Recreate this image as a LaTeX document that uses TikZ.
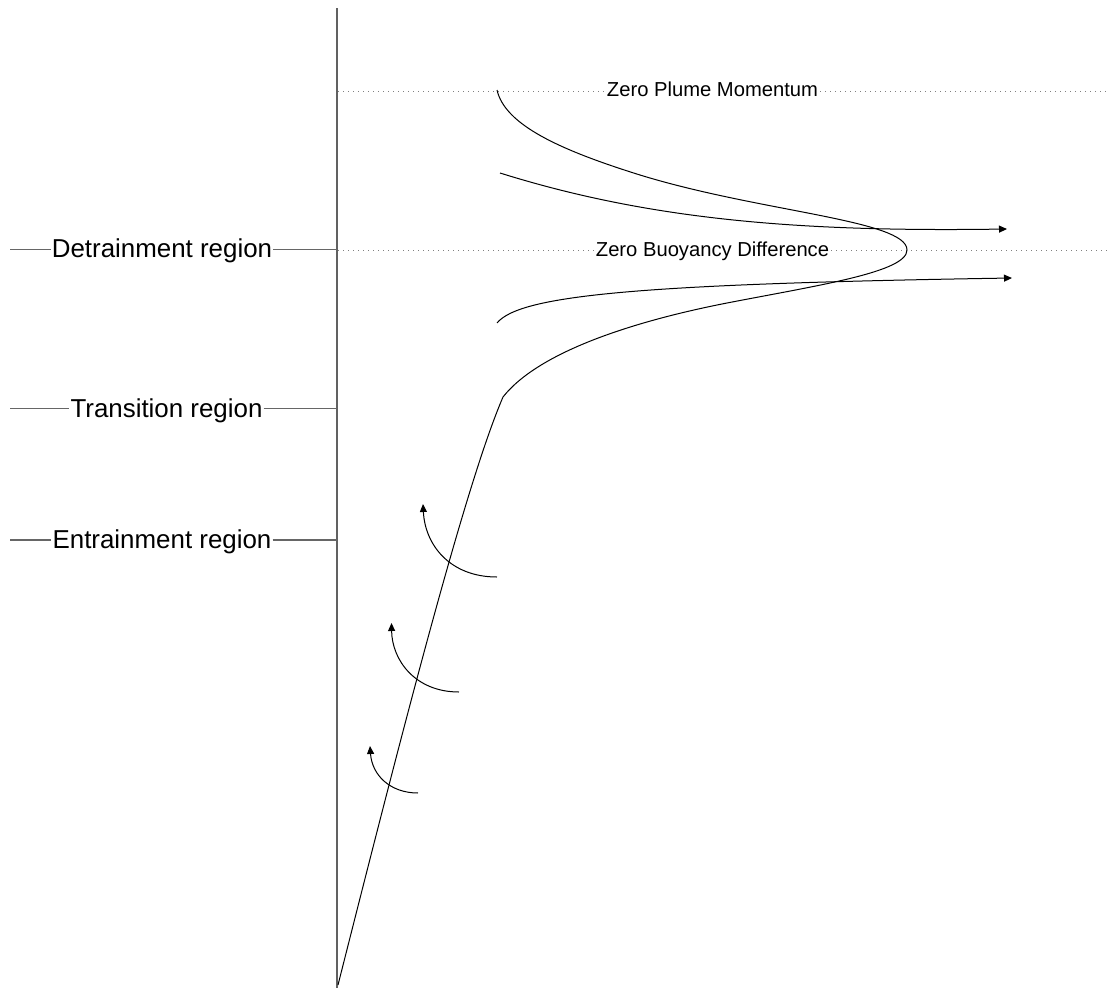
\documentclass[tikz,border=0pt]{standalone}
\usepackage{fontspec}
\setmainfont{Liberation Sans}
\usetikzlibrary{arrows.meta}
\begin{document}
\begin{tikzpicture}[x=1pt,y=-1pt,
  axisline/.style={draw=black!62, line width=1.8pt},
  tick/.style={draw=black!60, line width=1.2pt},
  level/.style={draw=black!50, line width=1pt, dash pattern=on 1pt off 4pt},
  regionlabel/.style={font=\fontsize{25.9}{30}\selectfont, inner sep=1pt, anchor=base},
  levellabel/.style={font=\fontsize{20.2}{24}\selectfont, inner sep=2pt, anchor=base},
  plume/.style={draw=black, line width=1pt},
  flow/.style={draw=black, line width=1pt, -{Triangle[length=8pt,width=7pt]}},
]
\useasboundingbox (0,0) rectangle (1109,988);

% vertical axis
\coordinate (top) at (337,8);
\coordinate (bottom) at (337,988);
\draw[axisline] (top) -- (bottom);

% region labels on the left
\node[regionlabel] (det) at (162,257.6) {Detrainment region};
\node[regionlabel] (tra) at (166.5,417.1) {Transition region};
\node[regionlabel] (ent) at (162,548.4) {Entrainment region};
\coordinate (detL) at (10,249.5);
\coordinate (traL) at (10,408.7);
\coordinate (entL) at (10,540);
\draw[tick] (detL) -- (detL -| det.west);
\draw[tick] (det.east |- detL) -- (detL -| top);
\draw[tick] (traL) -- (traL -| tra.west);
\draw[tick] (tra.east |- traL) -- (traL -| top);
\draw[tick] (entL) -- (entL -| ent.west);
\draw[tick] (ent.east |- entL) -- (entL -| top);

% reference levels
\node[levellabel] (zpm) at (712.5,96.7) {Zero Plume Momentum};
\node[levellabel] (zbd) at (712.5,256) {Zero Buoyancy Difference};
\coordinate (zpmL) at (338,91);
\coordinate (zpmR) at (1109,91);
\coordinate (zbdL) at (338,250);
\coordinate (zbdR) at (1109,250);
\draw[level] (zpmL) -- (zpmL -| zpm.west);
\draw[level] (zpm.east |- zpmL) -- (zpmR);
\draw[level] (zbdL) -- (zbdL -| zbd.west);
\draw[level] (zbd.east |- zbdL) -- (zbdR);

% plume outline: rising column, spreading head, overshoot to zero momentum
\coordinate (source) at (338,985);
\coordinate (knee) at (503,397);
\coordinate (nose) at (907,250);
\coordinate (crest) at (497,90);
\draw[plume] (source) .. controls (400,740) and (465,485) .. (knee)
  .. controls (540,350) and (640,320) .. (727,303)
  .. controls (820,285) and (907,272) .. (nose)
  .. controls (907,220) and (760,212) .. (640,175)
  .. controls (560,150) and (505,125) .. (crest);

% detrained outflows
\coordinate (outA0) at (500,173);
\coordinate (outA1) at (1007,229);
\coordinate (outB0) at (497,323);
\coordinate (outB1) at (1012,278);
\draw[flow] (outA0) .. controls (650,220) and (800,232) .. (outA1);
\draw[flow] (outB0) .. controls (520,295) and (640,284) .. (outB1);

% entrained ambient fluid
\coordinate (inA0) at (497,577);
\coordinate (inA1) at (423,504);
\coordinate (inB0) at (459,692);
\coordinate (inB1) at (391.5,623);
\coordinate (inC0) at (418,793);
\coordinate (inC1) at (370,746);
\draw[flow] (inA0) .. controls (450,577) and (425,545) .. (inA1);
\draw[flow] (inB0) .. controls (415,692) and (392,660) .. (inB1);
\draw[flow] (inC0) .. controls (390,793) and (372,775) .. (inC1);
\end{tikzpicture}
\end{document}
